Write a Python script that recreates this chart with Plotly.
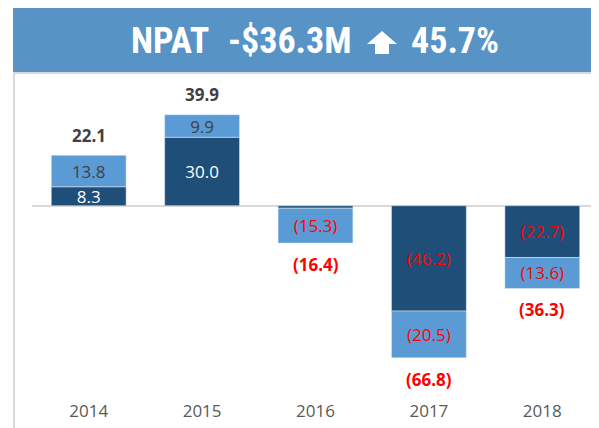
import plotly.graph_objects as go

years = ["2014", "2015", "2016", "2017", "2018"]
core = [8.3, 30.0, -1.1, -46.2, -22.7]
other = [13.8, 9.9, -15.3, -20.5, -13.6]
totals = [22.1, 39.9, -16.4, -66.8, -36.3]
title_parts = ["NPAT", "-$36.3M", "45.7%"]

DARK = "#1F4E79"
LIGHT = "#5B9BD5"
RED = "#FF0000"
GREY = "#404040"
FONT = "Open Sans, Calibri, sans-serif"
HFONT = "Liberation Sans Narrow, Arial Narrow, Roboto Condensed, Roboto, sans-serif"

def fmt(v):
    return f"{v:.1f}" if v >= 0 else f"({abs(v):.1f})"

core_text = [fmt(v) if abs(v) >= 3 else "" for v in core]
other_text = [fmt(v) for v in other]

fig = go.Figure()
fig.add_bar(x=years, y=core, marker_color=DARK, text=core_text,
            textposition="inside", insidetextanchor="middle", textangle=0,
            constraintext="none",
            textfont=dict(color=["white" if v >= 0 else RED for v in core], size=17, family=FONT),
            hoverinfo="skip", cliponaxis=False)
fig.add_bar(x=years, y=other, marker_color=LIGHT, text=other_text,
            textposition="inside", insidetextanchor="middle", textangle=0,
            constraintext="none",
            textfont=dict(color=[GREY if v >= 0 else RED for v in other], size=17, family=FONT),
            hoverinfo="skip", cliponaxis=False)

annotations = []
for i, t in enumerate(totals):
    annotations.append(dict(x=i, y=t, xref="x", yref="y", text=f"<b>{fmt(t)}</b>", showarrow=False,
                            yshift=20 if t >= 0 else -21,
                            font=dict(size=17, color=GREY if t >= 0 else RED, family=FONT)))

# reference-pixel -> paper helpers (page has an 8px body margin)
def px(x):
    return (x - 32) / 567

def py(y):
    return (395 - y) / 317

for txt, cx in zip(title_parts, [170, 290, 455]):
    annotations.append(dict(xref="paper", yref="paper", x=px(cx), y=py(41),
                            xanchor="center", yanchor="middle",
                            text=f"<b>{txt}</b>", showarrow=False,
                            font=dict(size=36, color="white", family=HFONT)))

arrow_path = ("M {} {} L {} {} L {} {} L {} {} L {} {} L {} {} L {} {} Z".format(
    px(382), py(31), px(397), py(44), px(389), py(44), px(389), py(54),
    px(375), py(54), px(375), py(44), px(367), py(44)))

shapes = [
    dict(type="rect", xref="paper", yref="paper", x0=px(13), x1=1.0, y0=py(72), y1=py(7),
         fillcolor="#5793C5", line=dict(width=0), layer="below"),
    dict(type="line", xref="paper", yref="paper", x0=px(13), x1=1.0, y0=py(73), y1=py(73),
         line=dict(color="#D9D9D9", width=2)),
    dict(type="line", xref="paper", yref="paper", x0=px(14), x1=px(14), y0=py(73), y1=py(430),
         line=dict(color="#D9D9D9", width=2)),
    dict(type="path", xref="paper", yref="paper", path=arrow_path,
         fillcolor="white", line=dict(width=0)),
]

fig.update_layout(
    width=591, height=420,
    margin=dict(l=24, r=0, t=70, b=33, autoexpand=False),
    barmode="relative", bargap=0.34,
    showlegend=False,
    plot_bgcolor="white", paper_bgcolor="white",
    xaxis=dict(type="category", range=[-0.5, 4.5], showgrid=False, showline=False, ticks="",
               automargin=False, ticklabelstandoff=4,
               tickfont=dict(size=17, color="#595959", family=FONT)),
    yaxis=dict(range=[-83, 56], showgrid=False, showticklabels=False, zeroline=True,
               automargin=False, zerolinecolor="#D9D9D9", zerolinewidth=2),
    annotations=annotations,
    shapes=shapes,
)

fig.write_html("out.html")
